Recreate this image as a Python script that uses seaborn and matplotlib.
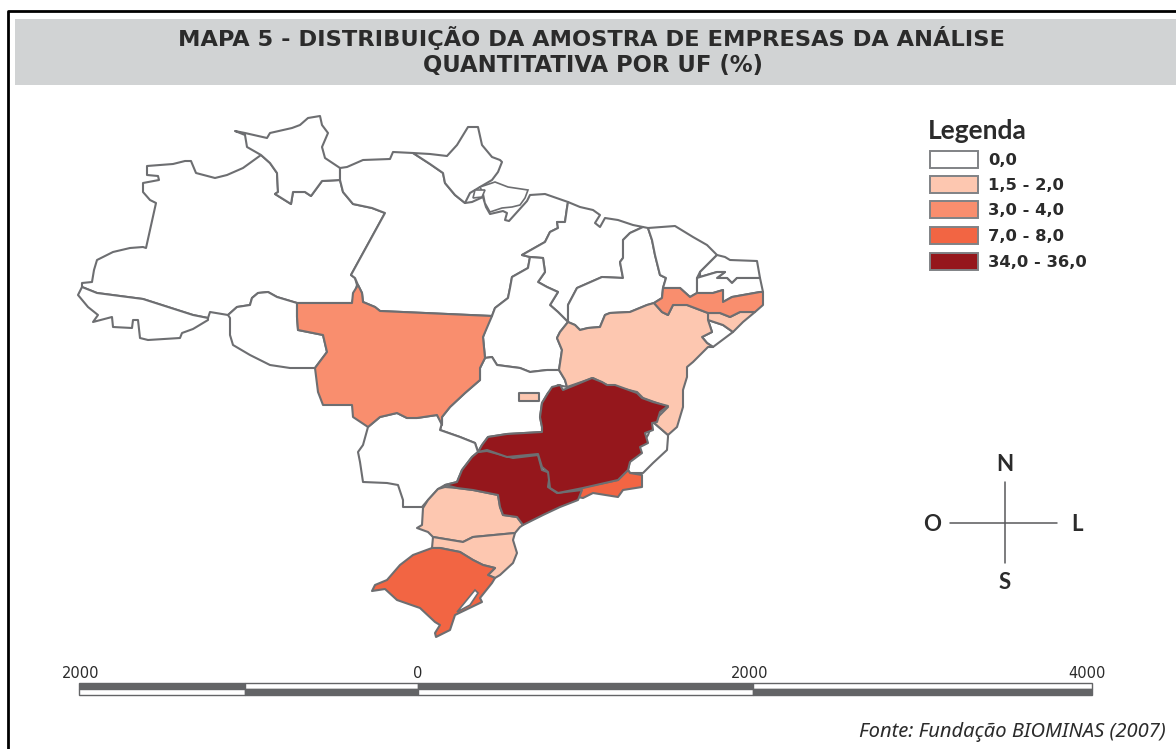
import seaborn as sns
import matplotlib.pyplot as plt
from matplotlib.patches import Rectangle

# classes da legenda
classes = ['0,0', '1,5 - 2,0', '3,0 - 4,0', '7,0 - 8,0', '34,0 - 36,0']
cores = ['#ffffff', '#fdc7b0', '#f98e6e', '#f26543', '#95171c']

# classe de cada UF
uf_classe = {'AM': 0, 'AC': 0, 'RR': 0, 'PA': 0, 'AP': 0, 'MA': 0, 'TO': 0, 'PI': 0, 'CE': 0, 'RN': 0,
             'PB': 0, 'AL': 1, 'SE': 0, 'RO': 0, 'GO': 0, 'MS': 0, 'ES': 0, 'BA': 1, 'PR': 1, 'SC': 1,
             'DF': 1, 'MT': 2, 'PE': 2, 'RJ': 3, 'RS': 3, 'SP': 4, 'MG': 4}

AM = [(82,283),(92,282),(94,270),(97,260),(113,252),(130,248),(143,247),(146,248),(156,203),(150,200),(143,192),(143,183),
      (159,180),(158,176),(147,175),(147,166),(173,164),(185,161),(191,161),(196,173),(215,178),(227,175),(243,168),(261,155),
      (270,163),(277,173),(278,192),(275,194),(291,204),(293,192),(305,192),(311,196),(322,181),(340,180),(343,192),(353,204),
      (372,208),(385,213),(351,275),(355,278),(357,285),(352,303),(297,303),(277,297),(268,292),(258,293),(252,298),(250,305),
      (237,307),(228,315),(210,312),(208,318),(193,315),(143,299),(97,293),(82,287)]
AC = [(82,287),(78,295),(88,307),(98,315),(93,322),(112,317),(113,327),(132,328),(133,320),(138,320),(140,338),(148,340),
      (180,338),(182,333),(193,329),(208,320),(208,318),(193,315),(143,299),(97,293)]
RR = [(261,155),(247,147),(245,135),(235,131),(245,133),(267,138),(270,133),(292,128),(300,125),(308,118),(320,116),(322,125),
      (328,133),(322,147),(325,158),(340,168),(340,180),(322,181),(311,196),(305,192),(293,192),(291,204),(275,194),(278,192),
      (277,173),(270,163)]
PA = [(340,168),(347,167),(363,160),(390,159),(393,152),(413,153),(430,164),(443,173),(445,183),(455,195),(465,203),(472,202),
      (483,197),(486,207),(490,214),(503,211),(507,213),(505,220),(509,221),(518,211),(527,201),(530,195),(545,194),(568,202),(567,208),
      (565,222),(557,222),(558,228),(550,232),(545,242),(522,255),(530,257),(528,268),(512,277),(510,288),(508,298),(495,308),
      (492,316),(380,311),(375,307),(363,302),(362,293),(358,285),(355,278),(351,275),(385,213),(372,208),(353,204),(343,192),(340,180)]
AP = [(413,153),(430,154),(447,156),(457,145),(468,127),(478,127),(482,145),(492,157),(500,160),(502,162),(498,172),(492,180),(480,187),
      (470,193),(465,203),(455,195),(445,183),(443,173),(430,164)]
marajo = [(483,193),(485,203),(490,212),(502,208),(512,207),(520,205),(525,198),(528,190),(508,187),(495,182),(480,187)]
ilha = [(475,190),(485,190),(482,197),(473,198)]
MA = [(568,202),(580,207),(593,210),(600,215),(595,223),(600,227),(605,218),(618,220),(633,225),(643,227),(630,233),(623,240),
      (623,258),(620,262),(623,278),(602,277),(577,288),(568,305),(568,322),(558,312),(550,305),(558,292),(547,287),(538,282),
      (545,272),(543,258),(530,257),(522,255),(545,242),(550,232),(558,228),(557,222),(565,222),(567,208)]
TO = [(530,257),(543,258),(545,272),(538,282),(547,287),(558,292),(550,305),(558,312),(568,322),(560,332),(557,338),(562,350),
      (559,370),(547,370),(530,372),(520,368),(497,365),(492,357),(485,358),(483,337),(490,317),(492,316),(495,308),(508,298),
      (510,288),(512,277),(528,268)]
PI = [(643,227),(648,228),(652,240),(655,255),(660,275),(666,278),(663,288),(662,298),(654,303),(647,305),(630,312),(610,313),
      (605,315),(600,327),(588,328),(580,330),(575,325),(568,322),(568,305),(577,288),(602,277),(623,278),(620,262),(623,258),
      (623,240),(630,233)]
CE = [(648,228),(675,226),(693,237),(707,245),(717,255),(700,272),(697,278),(697,293),(690,297),(680,288),(663,288),(666,278),
      (660,275),(655,255),(652,240)]
RN = [(717,255),(725,257),(730,260),(757,261),(760,278),(753,278),(737,278),(732,283),(727,278),(717,278),(725,272),(717,272),(700,277),(700,272)]
PB = [(697,278),(700,277),(717,272),(725,272),(717,278),(727,278),(732,283),(737,278),(753,278),(760,278),(763,292),(760,292),
      (732,297),(723,302),(723,290),(713,293),(697,293)]
PE = [(663,288),(680,288),(690,297),(697,293),(713,293),(723,290),(723,302),(732,297),(760,292),(763,292),(763,305),(755,312),
      (740,312),(730,317),(720,313),(708,313),(687,305),(673,305),(668,315),(662,312),(654,303),(662,298)]
AL = [(708,313),(720,313),(730,317),(740,312),(755,312),(743,322),(733,332),(723,325),(708,320)]
SE = [(708,320),(723,325),(733,332),(713,347),(707,343),(702,337),(712,332)]
BA = [(568,322),(575,325),(580,330),(588,328),(600,327),(605,315),(610,313),(630,312),(647,305),(654,303),(662,312),(668,315),
      (673,305),(687,305),(708,313),(708,320),(712,332),(702,337),(707,343),(713,347),(708,347),(693,362),(687,367),(687,377),
      (683,390),(683,407),(677,427),(668,435),(653,422),(668,407),(643,398),(637,392),(607,385),(593,378),(567,387),(565,380),
      (559,370),(562,350),(557,338),(560,332)]
MG = [(563,390),(560,385),(552,387),(548,393),(542,403),(540,417),(542,427),(542,432),(507,434),(488,437),(482,445),(478,452),(487,450),
      (507,457),(538,454),(542,467),(548,472),(550,488),(558,493),(583,488),(618,480),(628,470),(630,462),(642,453),(640,447),(648,443),
      (645,433),(653,430),(652,423),(657,422),(660,412),(668,406),(653,402),(642,398),(637,393),(615,385),(607,385),(602,382),(592,378),(580,383)]
ES = [(648,435),(653,422),(668,435),(668,437),(667,450),(653,463),(643,473),(630,473),(628,470),(630,460),(643,443)]
RJ = [(580,488),(618,480),(628,470),(630,473),(642,475),(642,487),(623,490),(618,497),(593,493),(583,498),(577,497)]
SP = [(445,485),(457,482),(462,470),(472,457),(478,452),(487,451),(513,458),(538,455),(542,470),(550,473),(548,487),(557,493),
      (582,490),(578,500),(560,507),(543,515),(523,525),(517,517),(503,515),(500,507),(498,495),(473,490),(457,488)]
PR = [(445,487),(438,489),(428,500),(423,508),(422,525),(417,528),(428,532),(433,537),(463,542),(473,537),(515,533),(520,527),
      (523,525),(517,517),(503,515),(500,507),(498,495),(473,490),(457,488)]
SC = [(433,537),(463,542),(473,537),(515,533),(513,540),(517,553),(513,563),(500,575),(495,578),(488,575),(495,568),(483,565),
      (473,560),(460,552),(440,548),(432,548)]
RS = [(432,548),(413,555),(400,565),(387,580),(375,585),(372,591),(385,589),(397,600),(420,608),(435,622),(440,625),(435,633),
      (436,637),(450,630),(455,615),(482,602),(480,598),(492,583),(495,578),(488,575),(495,568),(483,565),(473,560),(460,552),(440,548)]
lagoa = [(457,612),(475,590),(478,593),(470,605)]
RO = [(297,303),(277,297),(268,292),(258,293),(252,298),(250,305),(237,307),(228,315),(230,318),(230,335),(233,345),(250,355),
      (270,365),(290,368),(315,368),(327,352),(323,335),(298,330),(297,317)]
MT = [(297,303),(352,303),(353,293),(358,285),(362,293),(363,302),(375,307),(380,311),(492,316),(483,337),(485,358),(480,368),
      (480,380),(465,393),(450,407),(442,417),(442,425),(437,415),(417,418),(407,418),(397,413),(380,417),(368,427),(353,417),
      (352,405),(323,405),(318,392),(315,368),(327,352),(323,335),(298,330),(297,317)]
MS = [(368,427),(363,445),(358,452),(360,462),(363,482),(387,483),(398,485),(403,500),(403,507),(422,507),(428,500),(438,489),
      (445,485),(457,482),(462,470),(472,457),(478,452),(475,443),(460,437),(440,430),(442,423),(437,415),(417,418),(407,418),
      (397,413),(380,417)]
GO = [(485,358),(492,357),(497,365),(520,368),(530,372),(547,370),(559,370),(565,380),(567,387),(558,385),(548,393),(542,403),
      (540,417),(542,427),(542,432),(507,434),(488,437),(482,445),(478,452),(475,443),(460,437),(440,430),(442,423),(442,417),
      (450,407),(465,393),(480,380),(480,368)]
DF = [(519,393),(539,393),(539,401),(519,401)]

ufs = {'AM': AM, 'AC': AC, 'RR': RR, 'PA': PA, 'AP': AP, 'MA': MA, 'TO': TO, 'PI': PI, 'CE': CE, 'RN': RN, 'PB': PB,
       'AL': AL, 'SE': SE, 'RO': RO, 'GO': GO, 'MS': MS, 'ES': ES, 'BA': BA, 'PR': PR, 'SC': SC, 'DF': DF, 'MT': MT,
       'PE': PE, 'RJ': RJ, 'RS': RS, 'SP': SP, 'MG': MG}

# escala grafica
escala_labels = ['2000', '0', '2000', '4000']
escala_x = [79, 245, 418, 753, 1092]

sns.set_style('white')
plt.rcParams['font.family'] = ['Lato', 'DejaVu Sans']
paleta = sns.color_palette(cores)

fig = plt.figure(figsize=(11.76, 7.49), dpi=100)
ax = fig.add_axes([0, 0, 1, 1])
ax.set_xlim(0, 1176)
ax.set_ylim(749, 0)
ax.axis('off')

cinza = '#6d6e71'
texto = '#2b2b2b'

# moldura e faixa do titulo
ax.plot([7.5, 7.5, 1176], [749, 11, 11], color='black', lw=2)
ax.add_patch(Rectangle((15, 19), 1161, 66, color='#d1d3d4', lw=0))
ax.text(592, 46, 'MAPA 5 - DISTRIBUIÇÃO DA AMOSTRA DE EMPRESAS DA ANÁLISE', ha='center', va='baseline',
        fontsize=16.2, fontweight='bold', color=texto, family='DejaVu Sans')
ax.text(593, 72, 'QUANTITATIVA POR UF (%)', ha='center', va='baseline', fontsize=16.4, fontweight='bold',
        color=texto, family='DejaVu Sans')

# mapa: brancos primeiro, escuros por cima
for uf in sorted(ufs, key=lambda u: uf_classe[u]):
    xs = [p[0] for p in ufs[uf]]
    ys = [p[1] for p in ufs[uf]]
    ax.fill(xs, ys, facecolor=paleta[uf_classe[uf]], edgecolor=cinza, lw=1.5, joinstyle='round')
for extra in [marajo, ilha, lagoa]:
    ax.fill([p[0] for p in extra], [p[1] for p in extra], facecolor='white', edgecolor=cinza, lw=1.2)

# legenda
ax.text(928, 139, 'Legenda', ha='left', va='baseline', fontsize=19, fontweight='bold', color=texto)
topos = [151, 176, 201, 227, 253]
for i, classe in enumerate(classes):
    ax.add_patch(Rectangle((930, topos[i]), 48, 17, facecolor=paleta[i], edgecolor='#808285', lw=1.4))
    ax.text(988, topos[i] + 14, classe, ha='left', va='baseline', fontsize=11.8, fontweight='bold',
            color=texto, family='DejaVu Sans')

# rosa dos ventos
ax.plot([950, 1057], [523, 523], color='#58595b', lw=1.1)
ax.plot([1005, 1005], [482, 563], color='#58595b', lw=1.1)
for x, y, s in [(1005, 471, 'N'), (932, 531, 'O'), (1077, 531, 'L'), (1005, 589, 'S')]:
    ax.text(x, y, s, ha='center', va='baseline', fontsize=16, fontweight='bold', color=texto)

# escala
for i in range(4):
    x0 = escala_x[i]
    larg = escala_x[i + 1] - x0
    cima = '#636466' if i % 2 == 0 else 'white'
    baixo = 'white' if i % 2 == 0 else '#636466'
    ax.add_patch(Rectangle((x0, 683), larg, 6, facecolor=cima, edgecolor='#636466', lw=1))
    ax.add_patch(Rectangle((x0, 689), larg, 6, facecolor=baixo, edgecolor='#636466', lw=1))
for x, s in zip([81, 418, 750, 1087], escala_labels):
    ax.text(x, 678, s, ha='center', va='baseline', fontsize=10.5, color=texto, family='DejaVu Sans')

ax.text(1166, 737, 'Fonte: Fundação BIOMINAS (2007)', ha='right', va='baseline', fontsize=14.5,
        style='italic', color=texto, family='Noto Sans')

fig.savefig('out.png', dpi=100)
